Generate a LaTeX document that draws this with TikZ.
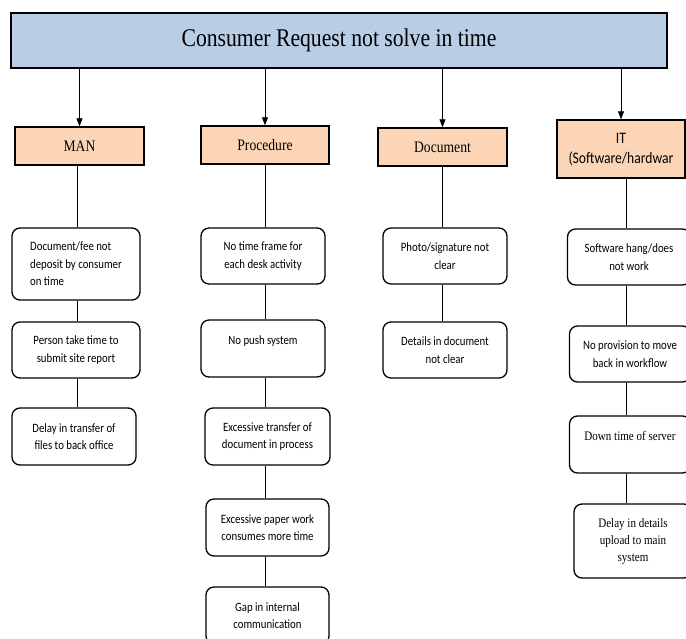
\documentclass[tikz,border=0pt]{standalone}
\usepackage{fontspec}
\setmainfont[FakeStretch=0.85]{Carlito}
\newfontfamily\tnr[FakeStretch=0.85]{Liberation Serif}
\usetikzlibrary{arrows.meta}
\definecolor{headblue}{HTML}{B9CDE5}
\definecolor{catpeach}{HTML}{FBD5B5}
\tikzset{
  headbox/.style={draw, line width=2.2pt, fill=headblue, inner sep=0pt, font=\tnr\fontsize{25.5}{30}\selectfont},
  catbox/.style={draw, line width=1.4pt, fill=catpeach, inner sep=0pt, align=center, font=\tnr\fontsize{16}{20}\selectfont},
  causebox/.style={draw, line width=1.3pt, rounded corners=8pt, inner sep=0pt, align=center, font=\fontsize{12.7}{17.5}\selectfont},
  link/.style={line width=0.8pt},
  arr/.style={line width=0.8pt, -{Triangle[length=8pt,width=6pt]}}
}
\begin{document}
\begin{tikzpicture}[x=1pt, y=-1pt]
  \useasboundingbox (0,0) rectangle (686,638);
  \clip (0,0) rectangle (686,638);

  % top box
  \node[headbox, minimum width=656, minimum height=55] (top) at (339,40.5) {Consumer Request not solve in time};

  % categories
  \node[catbox, minimum width=129, minimum height=38] (man) at (79.5,146) {MAN};
  \node[catbox, minimum width=128, minimum height=38] (proc) at (265,145) {Procedure};
  \node[catbox, minimum width=129, minimum height=38] (doc) at (442.5,147) {Document};
  \node[catbox, minimum width=128, minimum height=58, font=\fontsize{16}{20}\selectfont] (it) at (621,149) {IT\\(Software/hardwar};

  % column lines
  \coordinate (colman) at (77,0);
  \coordinate (colproc) at (265,0);
  \coordinate (coldoc) at (442,0);
  \coordinate (colit) at (626,0);

  % MAN
  \node[causebox, align=left, minimum width=128, minimum height=72] (man1) at (76,264) {Document/fee not\\deposit by consumer\\on time};
  \node[causebox, minimum width=128, minimum height=56] (man2) at (76,350) {Person take time to\\submit site report};
  \node[causebox, minimum width=124, minimum height=57] (man3) at (74,436.5) {Delay in transfer of\\files to back office};

  % Procedure
  \node[causebox, minimum width=124, minimum height=56] (proc1) at (263,256) {No time frame for\\each desk activity};
  \node[causebox, minimum width=124, minimum height=57] (proc2) at (263,348.5) {No push system\\\mbox{}};
  \node[causebox, minimum width=125, minimum height=57] (proc3) at (267.5,436.5) {Excessive transfer of\\document in process};
  \node[causebox, minimum width=123, minimum height=57] (proc4) at (267.5,527.5) {Excessive paper work\\consumes more time};
  \node[causebox, minimum width=123, minimum height=57] (proc5) at (267.5,615.5) {Gap in internal\\communication};

  % Document
  \node[causebox, minimum width=124, minimum height=56] (doc1) at (445,256) {Photo/signature not\\clear};
  \node[causebox, minimum width=124, minimum height=56] (doc2) at (445,350) {Details in document\\not clear};

  % IT
  \node[causebox, minimum width=123, minimum height=56] (it1) at (629,257) {Software hang/does\\not work};
  \node[causebox, minimum width=121, minimum height=56] (it2) at (630,354) {No provision to move\\back in workflow};
  \node[causebox, align=left, minimum width=121, minimum height=57, font=\tnr\fontsize{13}{17.5}\selectfont] (it3) at (630,444.5) {Down time of server\\\mbox{}};
  \node[causebox, minimum width=118, minimum height=74, font=\tnr\fontsize{13}{17}\selectfont] (it4) at (633,541) {Delay in details\\upload to main\\system};

  % arrows from top
  \draw[arr] (top.south -| man.north) -- (man.north);
  \draw[arr] (top.south -| proc.north) -- (proc.north);
  \draw[arr] (top.south -| doc.north) -- (doc.north);
  \draw[arr] (top.south -| it.north) -- (it.north);

  % links MAN
  \draw[link] (man.south -| colman) -- (man1.north -| colman);
  \draw[link] (man1.south -| colman) -- (man2.north -| colman);
  \draw[link] (man2.south -| colman) -- (man3.north -| colman);
  % links Procedure
  \draw[link] (proc.south -| colproc) -- (proc1.north -| colproc);
  \draw[link] (proc1.south -| colproc) -- (proc2.north -| colproc);
  \draw[link] (proc2.south -| colproc) -- (proc3.north -| colproc);
  \draw[link] (proc3.south -| colproc) -- (proc4.north -| colproc);
  \draw[link] (proc4.south -| colproc) -- (proc5.north -| colproc);
  % links Document
  \draw[link] (doc.south -| coldoc) -- (doc1.north -| coldoc);
  \draw[link] (doc1.south -| coldoc) -- (doc2.north -| coldoc);
  % links IT
  \draw[link] (it.south -| colit) -- (it1.north -| colit);
  \draw[link] (it1.south -| colit) -- (it2.north -| colit);
  \draw[link] (it2.south -| colit) -- (it3.north -| colit);
  \draw[link] (it3.south -| colit) -- (it4.north -| colit);
\end{tikzpicture}
\end{document}
